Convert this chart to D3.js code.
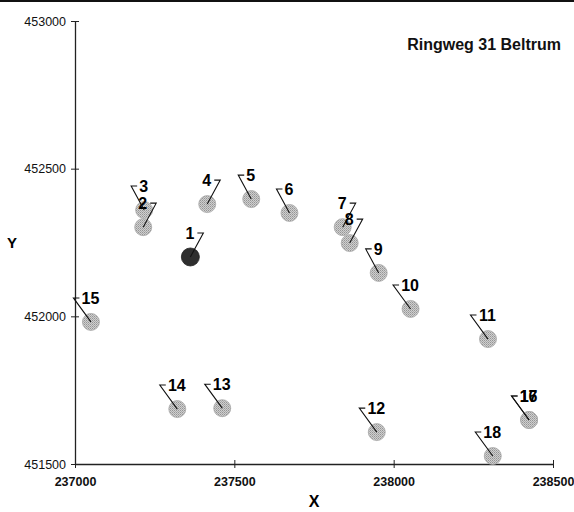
<!DOCTYPE html>
<html>
<head>
<meta charset="utf-8">
<script src="https://cdn.jsdelivr.net/npm/d3@7"></script>
<style>
  body { margin: 0; background: #fff; }
  svg { display: block; font-family: "Liberation Sans", Arial, sans-serif; }
</style>
</head>
<body>
<div id="chart"></div>
<script>
/**
 * DATA
 * */
const pointIds = ["1", "2", "3", "4", "5", "6", "7", "8", "9", "10", "11", "12", "13", "14", "15", "17", "16", "18"];
const xValues = [237362, 237214, 237217, 237415, 237553, 237673, 237840, 237862, 237953, 238053, 238296, 237947, 237462, 237321, 237050, 238425, 238425, 238311];
const yValues = [452201, 452302, 452360, 452380, 452397, 452350, 452302, 452248, 452147, 452025, 451923, 451608, 451689, 451686, 451981, 451649, 451649, 451527];
// which side of the label the leader line leaves from
const leaderSide = ["right", "right", "left", "right", "left", "left", "right", "right", "left", "left", "left", "left", "left", "left", "left", "left", "left", "left"];
const xTicks = [237000, 237500, 238000, 238500];
const yTicks = [451500, 452000, 452500, 453000];
const chartTitle = "Ringweg 31 Beltrum";

/**
 * CONSTANTS
 * */
const width = 574,
  height = 512,
  margin = { top: 21, bottom: 48, left: 75, right: 21 };

const svg = d3.select("#chart")
  .append("svg")
  .attr("width", width)
  .attr("height", height);

const x = d3.scaleLinear()
  .domain([237000, 238500])
  .range([margin.left, width - margin.right]);

const y = d3.scaleLinear()
  .domain([451500, 453000])
  .range([height - margin.bottom, margin.top]);

// scanned border line at the very top
svg.append("line")
  .attr("x1", 0).attr("x2", width)
  .attr("y1", 1).attr("y2", 1)
  .attr("stroke", "#111")
  .attr("stroke-width", 2);

// + AXES
const xAxis = svg.append("g")
  .attr("transform", `translate(0, ${y(451500)})`)
  .call(d3.axisBottom(x).tickValues(xTicks).tickSize(4).tickSizeOuter(0).tickFormat(d3.format("d")));

xAxis.select(".domain").attr("stroke", "#222").attr("stroke-width", 1.3);
xAxis.selectAll(".tick line").attr("y1", -4).attr("y2", 4).attr("stroke", "#222");
xAxis.selectAll(".tick text")
  .attr("y", 13)
  .attr("font-size", 12.5)
  .attr("font-weight", "bold")
  .attr("font-family", "Liberation Sans, Arial, sans-serif")
  .attr("fill", "#111");

const yAxis = svg.append("g")
  .attr("transform", `translate(${x(237000)}, 0)`)
  .call(d3.axisLeft(y).tickValues(yTicks).tickSize(4).tickSizeOuter(0).tickFormat(d3.format("d")));

yAxis.select(".domain").attr("stroke", "#222").attr("stroke-width", 1.3);
yAxis.selectAll(".tick line").attr("x1", -4).attr("x2", 4).attr("stroke", "#222");
yAxis.selectAll(".tick text")
  .attr("x", -9)
  .attr("font-size", 12.5)
  .attr("font-family", "Liberation Sans, Arial, sans-serif")
  .attr("fill", "#111");

// axis titles
svg.append("text")
  .attr("x", x(237750))
  .attr("y", 507)
  .attr("text-anchor", "middle")
  .attr("font-size", 16)
  .attr("font-weight", "bold")
  .text("X");

svg.append("text")
  .attr("x", 12)
  .attr("y", 248)
  .attr("text-anchor", "middle")
  .attr("font-size", 15)
  .attr("font-weight", "bold")
  .text("Y");

svg.append("text")
  .attr("x", 561)
  .attr("y", 50)
  .attr("text-anchor", "end")
  .attr("font-size", 16)
  .attr("font-weight", "bold")
  .attr("fill", "#111")
  .text(chartTitle);

// dithered gray like the scan
const defs = svg.append("defs");
const pat = defs.append("pattern")
  .attr("id", "dither")
  .attr("width", 2).attr("height", 2)
  .attr("patternUnits", "userSpaceOnUse");
pat.append("rect").attr("width", 2).attr("height", 2).attr("fill", "#cfcfcf");
pat.append("rect").attr("width", 1).attr("height", 1).attr("fill", "#959595");
pat.append("rect").attr("x", 1).attr("y", 1).attr("width", 1).attr("height", 1).attr("fill", "#ababab");

const points = pointIds.map((id, i) => ({
  id,
  x: xValues[i],
  y: yValues[i],
  side: leaderSide[i]
}));

// + POINTS
svg.selectAll(".pt")
  .data(points)
  .join("circle")
  .attr("class", "pt")
  .attr("cx", d => x(d.x))
  .attr("cy", d => y(d.y))
  .attr("r", d => d.id === "1" ? 9 : 8.5)
  .attr("fill", d => d.id === "1" ? "#2e2e2e" : "url(#dither)")
  .attr("stroke", d => d.id === "1" ? "#222" : "#a8a8a8")
  .attr("stroke-width", 0.8);

// + LABELS WITH LEADER LINES
const labels = svg.selectAll(".lbl")
  .data(points)
  .join("g")
  .attr("class", "lbl");

labels.append("text")
  .attr("x", d => x(d.x) - 0.5)
  .attr("y", d => y(d.y) - 18)
  .attr("text-anchor", "middle")
  .attr("font-size", 16)
  .attr("font-weight", "bold")
  .attr("fill", "#000")
  .text(d => d.id);

labels.append("polyline")
  .attr("fill", "none")
  .attr("stroke", "#111")
  .attr("stroke-width", 1.1)
  .attr("points", d => {
    const px = x(d.x), py = y(d.y);
    const half = d.id.length > 1 ? 9 : 4.5;
    const ly = py - 24;
    if (d.side === "left") {
      const e = px - 0.5 - half - 2;
      return `${e},${ly} ${e - 6},${ly} ${px},${py}`;
    } else {
      const e = px - 0.5 + half + 3;
      return `${e},${ly} ${e + 6},${ly} ${px},${py}`;
    }
  });
</script>
</body>
</html>
